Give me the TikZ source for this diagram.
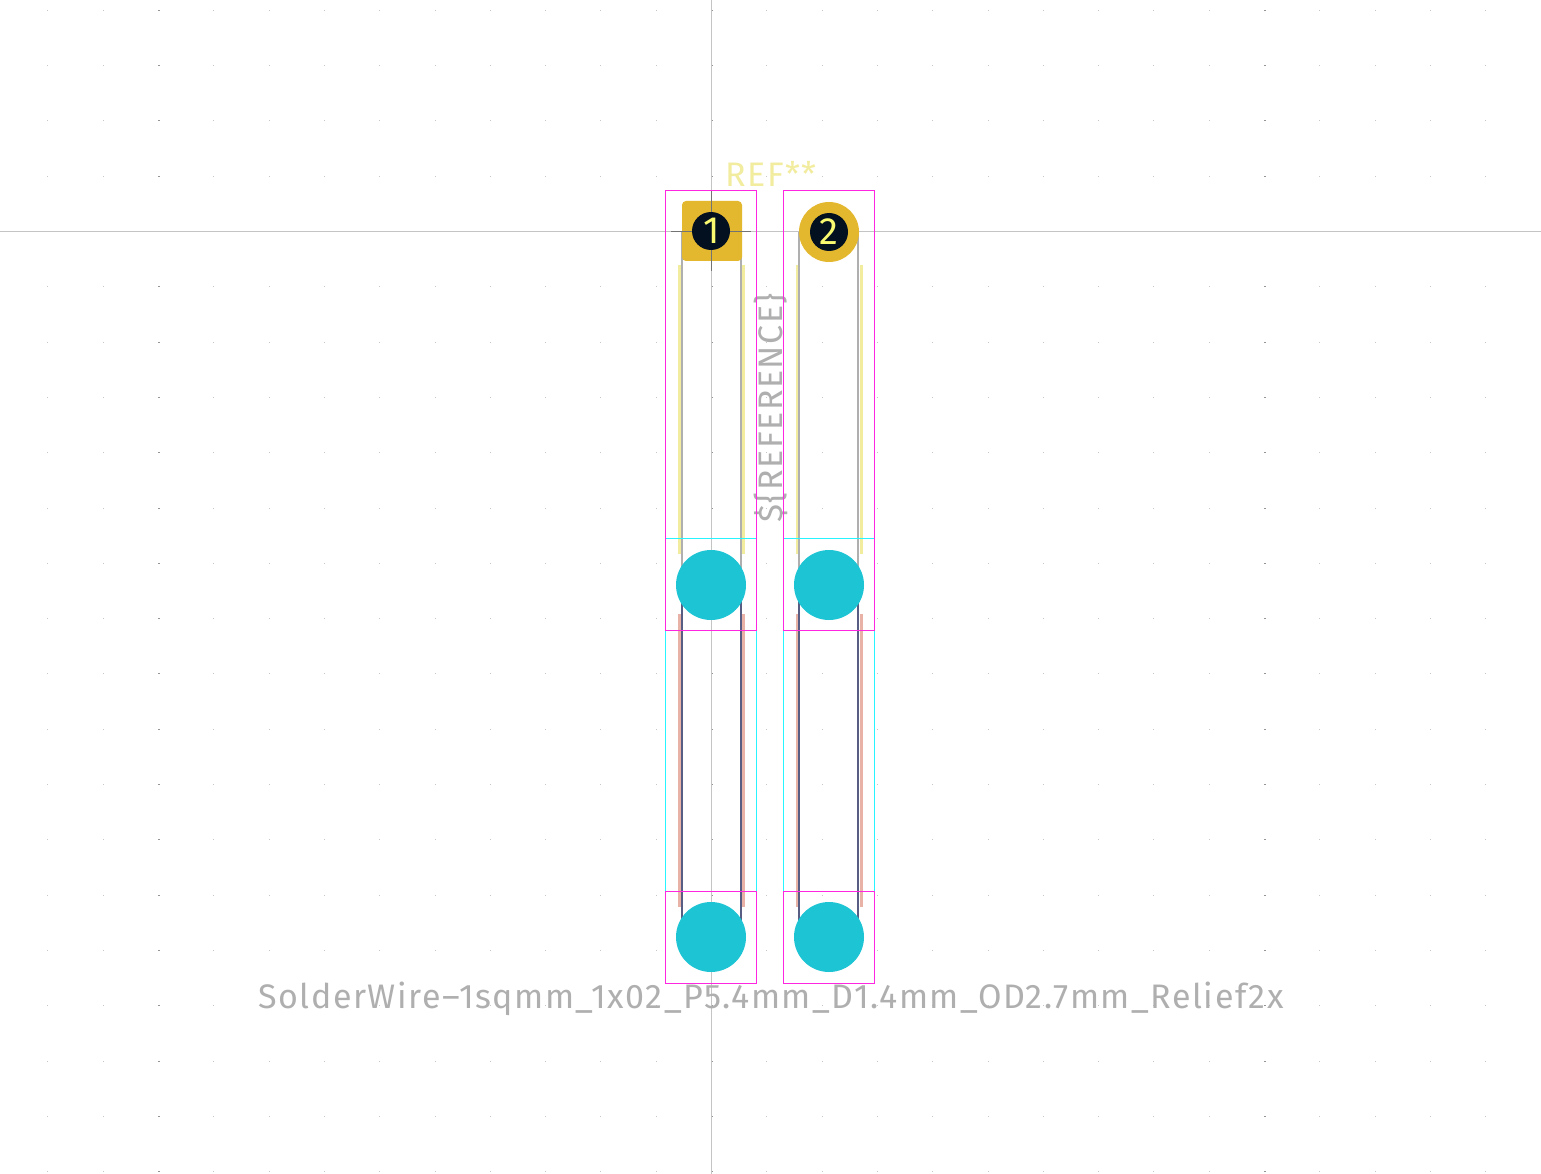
\documentclass[tikz,border=0pt]{standalone}
\usepackage{fontspec}
\setmainfont{DejaVu Sans}
\newfontfamily\kifont[LetterSpace=4.5]{Fira Sans}
\newfontfamily\numfont{Fira Sans}
\definecolor{court}{HTML}{FF26E2}
\definecolor{cuyan}{HTML}{26F5FF}
\definecolor{padc}{HTML}{E3B72E}
\definecolor{holec}{HTML}{02101F}
\definecolor{thc}{HTML}{1CC4D4}
\definecolor{silkf}{HTML}{F2EC9F}
\definecolor{silkb}{HTML}{E8B2A7}
\definecolor{fabf}{HTML}{AFAFAF}
\definecolor{fabb}{HTML}{585D84}
\definecolor{axisc}{HTML}{C4C4C4}
\definecolor{numc}{HTML}{FAFA70}
\tikzset{
  x=1pt,y=-1pt,
  griddot/.style={fill=black!22,draw=none},
  majordot/.style={fill=black!42,draw=none},
  courtline/.style={draw=court,line width=1.2pt},
  cuyanline/.style={draw=cuyan,line width=1.2pt},
  silktop/.style={draw=silkf,line width=3pt},
  silkbot/.style={draw=silkb,line width=3pt},
  fabtop/.style={draw=fabf,line width=2pt},
  fabbot/.style={draw=fabb,line width=2pt},
  padfill/.style={fill=padc,draw=none},
  holefill/.style={fill=holec,draw=none},
  padnum/.style={font=\numfont\fontsize{38}{38}\selectfont,text=numc,inner sep=0pt,anchor=base},
  gtext/.style={font=\kifont\fontsize{34}{34}\selectfont,text=fabf,inner sep=0pt,anchor=base},
}
\begin{document}
\begin{tikzpicture}
\useasboundingbox (0,0) rectangle (1541,1174);
\fill[white] (0,0) rectangle (1541,1174);
% grid
\foreach \i in {-12,...,15}{
  \foreach \j in {-4,...,17}{
    \pgfmathsetmacro{\gx}{711.5+55.3*\i}
    \pgfmathsetmacro{\gy}{231.5+55.3*\j}
    \fill[griddot] (\gx-0.5,\gy-0.5) rectangle (\gx+0.5,\gy+0.5);
  }
}
\foreach \i in {-10,0,10}{
  \foreach \j in {-4,...,17}{
    \pgfmathsetmacro{\gx}{711.5+55.3*\i}
    \pgfmathsetmacro{\gy}{231.5+55.3*\j}
    \fill[majordot] (\gx-1,\gy-0.5) rectangle (\gx+1,\gy+0.5);
  }
}
% axes
\draw[draw=axisc,line width=0.9pt] (711.5,0) -- (711.5,1174);
\draw[draw=axisc,line width=0.9pt] (0,231.5) -- (1541,231.5);
% silk
\foreach \x in {679.5,743.5,797.5,861.5}{
  \draw[silkbot] (\x,614) -- (\x,907);
  \draw[silktop] (\x,265) -- (\x,553.5);
}
% fab
\foreach \x in {682,741,799,858}{
  \draw[fabtop] (\x,232) -- (\x,585);
  \draw[fabbot] (\x,585) -- (\x,937);
}
% texts below the courtyards
\node[gtext,text=silkf] (ref) at (771,186.5) {REF**};
\node[gtext,rotate=90] (refb) at (782.5,408) {\$\{REFERENCE\}};
\node[gtext] (val) at (771,1008.5) {SolderWire–1sqmm\_1x02\_P5.4mm\_D1.4mm\_OD2.7mm\_Relief2x};
% courtyards
\foreach \x in {665.5,783.5}{
  \draw[cuyanline] (\x,538.5) rectangle (\x+91,891.5);
  \draw[courtline] (\x,190.5) rectangle (\x+91,630.5);
  \draw[courtline] (\x,891.5) rectangle (\x+91,983.5);
}
% through pads
\foreach \x/\y in {711/585,829/585,711/937,829/937}{
  \fill[thc] (\x,\y) circle[radius=35];
}
% pads
\fill[padfill,rounded corners=4pt] (682,201) rectangle (742,261);
\fill[padfill] (829,232) circle[radius=30];
\draw[draw=black!55,line width=0.9pt] (671,231.5) -- (751,231.5);
\draw[draw=black!55,line width=0.9pt] (711.5,191) -- (711.5,271);
\fill[holefill] (711,231) circle[radius=19];
\fill[holefill] (829,232) circle[radius=19];
\node[padnum] (pone) at (711.5,243.5) {1};
\node[padnum] (ptwo) at (829,244) {2};
\end{tikzpicture}
\end{document}
